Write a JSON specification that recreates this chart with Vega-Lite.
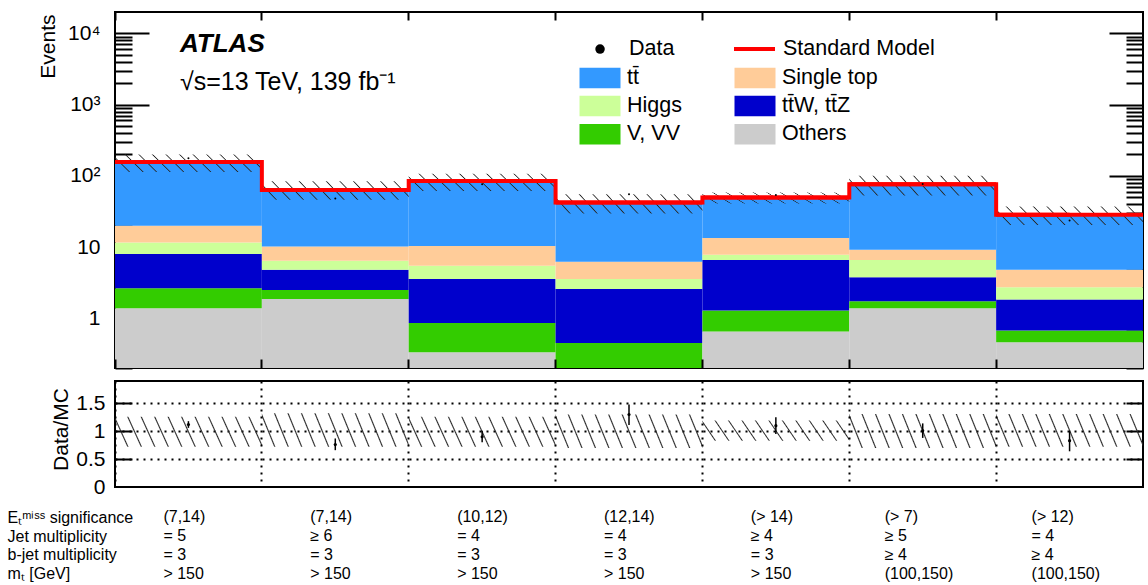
{
  "$schema": "https://vega.github.io/schema/vega-lite/v6.json",
  "padding": {"left": 7, "top": 10, "right": 0, "bottom": 0},
  "spacing": 10,
  "datasets": {
    "stack": [
      {"bin": 1, "comp": "Others", "val": 1.38}, {"bin": 1, "comp": "V, VV", "val": 1.25}, {"bin": 1, "comp": "tt̄W, tt̄Z", "val": 5.35}, {"bin": 1, "comp": "Higgs", "val": 3.62}, {"bin": 1, "comp": "Single top", "val": 8.3}, {"bin": 1, "comp": "tt̄", "val": 137},
      {"bin": 2, "comp": "Others", "val": 1.87}, {"bin": 2, "comp": "V, VV", "val": 0.63}, {"bin": 2, "comp": "tt̄W, tt̄Z", "val": 2.31}, {"bin": 2, "comp": "Higgs", "val": 1.62}, {"bin": 2, "comp": "Single top", "val": 3.77}, {"bin": 2, "comp": "tt̄", "val": 53.3},
      {"bin": 3, "comp": "Others", "val": 0.334}, {"bin": 3, "comp": "V, VV", "val": 0.52}, {"bin": 3, "comp": "tt̄W, tt̄Z", "val": 2.71}, {"bin": 3, "comp": "Higgs", "val": 1.91}, {"bin": 3, "comp": "Single top", "val": 4.9}, {"bin": 3, "comp": "tt̄", "val": 74.4},
      {"bin": 4, "comp": "Others", "val": 0.18}, {"bin": 4, "comp": "V, VV", "val": 0.27}, {"bin": 4, "comp": "tt̄W, tt̄Z", "val": 2.13}, {"bin": 4, "comp": "Higgs", "val": 0.98}, {"bin": 4, "comp": "Single top", "val": 2.66}, {"bin": 4, "comp": "tt̄", "val": 36.0},
      {"bin": 5, "comp": "Others", "val": 0.651}, {"bin": 5, "comp": "V, VV", "val": 0.63}, {"bin": 5, "comp": "tt̄W, tt̄Z", "val": 5.3}, {"bin": 5, "comp": "Higgs", "val": 1.22}, {"bin": 5, "comp": "Single top", "val": 5.6}, {"bin": 5, "comp": "tt̄", "val": 36.1},
      {"bin": 6, "comp": "Others", "val": 1.38}, {"bin": 6, "comp": "V, VV", "val": 0.35}, {"bin": 6, "comp": "tt̄W, tt̄Z", "val": 2.02}, {"bin": 6, "comp": "Higgs", "val": 2.83}, {"bin": 6, "comp": "Single top", "val": 2.59}, {"bin": 6, "comp": "tt̄", "val": 67.1},
      {"bin": 7, "comp": "Others", "val": 0.461}, {"bin": 7, "comp": "V, VV", "val": 0.21}, {"bin": 7, "comp": "tt̄W, tt̄Z", "val": 1.16}, {"bin": 7, "comp": "Higgs", "val": 0.89}, {"bin": 7, "comp": "Single top", "val": 2.07}, {"bin": 7, "comp": "tt̄", "val": 23.3}
    ],
    "sm": [
      {"bin": 1, "sm": 156.9, "mup": 200, "mdn": 113, "d": 176, "rup": 1.26, "rdn": 0.72, "r": 1.12, "rlo": 1.06, "rhi": 1.18},
      {"bin": 2, "sm": 63.5, "mup": 84, "mdn": 46, "d": 48, "rup": 1.32, "rdn": 0.72, "r": 0.76, "rlo": 0.66, "rhi": 0.87},
      {"bin": 3, "sm": 84.8, "mup": 107, "mdn": 61, "d": 76, "rup": 1.26, "rdn": 0.72, "r": 0.9, "rlo": 0.8, "rhi": 1.01},
      {"bin": 4, "sm": 42.2, "mup": 55, "mdn": 29.5, "d": 55, "rup": 1.3, "rdn": 0.7, "r": 1.3, "rlo": 1.11, "rhi": 1.48},
      {"bin": 5, "sm": 49.5, "mup": 58.5, "mdn": 41, "d": 54, "rup": 1.19, "rdn": 0.83, "r": 1.1, "rlo": 0.95, "rhi": 1.25},
      {"bin": 6, "sm": 76.3, "mup": 100, "mdn": 53, "d": 77, "rup": 1.31, "rdn": 0.7, "r": 1.01, "rlo": 0.88, "rhi": 1.14},
      {"bin": 7, "sm": 28.3, "mup": 37, "mdn": 20.4, "d": 23.5, "rup": 1.31, "rdn": 0.72, "r": 0.83, "rlo": 0.64, "rhi": 1.01}
    ],
    "cuts": [
      {"bin": 1, "row": "Eₜᵐⁱˢˢ significance", "txt": "(7,14)"}, {"bin": 1, "row": "Jet multiplicity", "txt": "= 5"}, {"bin": 1, "row": "b-jet multiplicity", "txt": "= 3"}, {"bin": 1, "row": "mₜ [GeV]", "txt": "> 150"},
      {"bin": 2, "row": "Eₜᵐⁱˢˢ significance", "txt": "(7,14)"}, {"bin": 2, "row": "Jet multiplicity", "txt": "≥ 6"}, {"bin": 2, "row": "b-jet multiplicity", "txt": "= 3"}, {"bin": 2, "row": "mₜ [GeV]", "txt": "> 150"},
      {"bin": 3, "row": "Eₜᵐⁱˢˢ significance", "txt": "(10,12)"}, {"bin": 3, "row": "Jet multiplicity", "txt": "= 4"}, {"bin": 3, "row": "b-jet multiplicity", "txt": "= 3"}, {"bin": 3, "row": "mₜ [GeV]", "txt": "> 150"},
      {"bin": 4, "row": "Eₜᵐⁱˢˢ significance", "txt": "(12,14)"}, {"bin": 4, "row": "Jet multiplicity", "txt": "= 4"}, {"bin": 4, "row": "b-jet multiplicity", "txt": "= 3"}, {"bin": 4, "row": "mₜ [GeV]", "txt": "> 150"},
      {"bin": 5, "row": "Eₜᵐⁱˢˢ significance", "txt": "(> 14)"}, {"bin": 5, "row": "Jet multiplicity", "txt": "≥ 4"}, {"bin": 5, "row": "b-jet multiplicity", "txt": "= 3"}, {"bin": 5, "row": "mₜ [GeV]", "txt": "> 150"},
      {"bin": 6, "row": "Eₜᵐⁱˢˢ significance", "txt": "(> 7)"}, {"bin": 6, "row": "Jet multiplicity", "txt": "≥ 5"}, {"bin": 6, "row": "b-jet multiplicity", "txt": "≥ 4"}, {"bin": 6, "row": "mₜ [GeV]", "txt": "(100,150)"},
      {"bin": 7, "row": "Eₜᵐⁱˢˢ significance", "txt": "(> 12)"}, {"bin": 7, "row": "Jet multiplicity", "txt": "= 4"}, {"bin": 7, "row": "b-jet multiplicity", "txt": "≥ 4"}, {"bin": 7, "row": "mₜ [GeV]", "txt": "(100,150)"}
    ]
  },
  "vconcat": [
    {
      "width": 1028,
      "height": 356,
      "title": {"text": "ATLAS", "subtitle": "√s=13 TeV, 139 fb⁻¹", "orient": "top", "anchor": "start", "frame": "group", "offset": -84, "dx": 65, "font": "Liberation Sans", "fontSize": 26, "fontStyle": "italic", "fontWeight": "bold", "color": "#000000", "subtitleFont": "Liberation Sans", "subtitleFontSize": 25, "subtitleColor": "#000000", "subtitlePadding": 13},
      "layer": [
        {
          "data": {"name": "stack"},
          "transform": [{"stack": "val", "groupby": ["bin"], "as": ["y0", "y1"]}],
          "mark": {"type": "rect"},
          "encoding": {
            "x": {"field": "bin", "type": "ordinal", "scale": {"paddingInner": 0, "paddingOuter": 0}, "axis": {"orient": "top", "labels": false, "bandPosition": 0, "tickSize": -8, "title": null}},
            "y": {"field": "y1", "type": "quantitative", "scale": {"type": "log", "domain": [0.2, 20000], "nice": false, "clamp": true},
              "axis": {"orient": "left", "values": [1, 10, 100, 1000, 10000], "ticks": false, "labelExpr": "datum.value == 1 ? '1' : datum.value == 10 ? '10' : datum.value == 100 ? '10²' : datum.value == 1000 ? '10³' : '10⁴'", "labelFontSize": 21, "labelPadding": 15, "title": "Events", "titleFontSize": 21, "titleAngle": -90, "titleAlign": "right", "titleBaseline": "alphabetic", "titleX": -61, "titleY": 2}},
            "y2": {"field": "y0"},
            "color": {"field": "comp", "type": "nominal",
              "scale": {"domain": ["tt̄", "Higgs", "V, VV", "Single top", "tt̄W, tt̄Z", "Others"], "range": ["#3399ff", "#ccff99", "#33cc00", "#ffcc99", "#0000cc", "#cccccc"]},
              "legend": {"orient": "none", "legendX": 474.25, "legendY": 54.75, "columns": 2, "columnPadding": 52, "rowPadding": 5.4, "title": null, "padding": 0,
                "labelFont": "Liberation Sans", "labelFontSize": 21.5, "labelColor": "#000000", "labelOffset": 16.25, "labelLimit": 400,
                "symbolType": "M-2,-1H2V1H-2Z", "symbolSize": 420.25, "symbolStrokeWidth": 0, "symbolOpacity": 1}}
          }
        },
        {
          "data": {"name": "sm"},
          "mark": {"type": "rect", "fill": {"gradient": "linear", "x1": 0, "y1": 0.561, "x2": 1, "y2": 0.439, "stops": [
            {"offset": 0, "color": "rgba(40,40,40,0)"},
            {"offset": 0.0375, "color": "rgba(40,40,40,0)"}, {"offset": 0.0455, "color": "rgba(40,40,40,1)"}, {"offset": 0.0535, "color": "rgba(40,40,40,0)"},
            {"offset": 0.1284, "color": "rgba(40,40,40,0)"}, {"offset": 0.1364, "color": "rgba(40,40,40,1)"}, {"offset": 0.1444, "color": "rgba(40,40,40,0)"},
            {"offset": 0.2193, "color": "rgba(40,40,40,0)"}, {"offset": 0.2273, "color": "rgba(40,40,40,1)"}, {"offset": 0.2353, "color": "rgba(40,40,40,0)"},
            {"offset": 0.3102, "color": "rgba(40,40,40,0)"}, {"offset": 0.3182, "color": "rgba(40,40,40,1)"}, {"offset": 0.3262, "color": "rgba(40,40,40,0)"},
            {"offset": 0.4011, "color": "rgba(40,40,40,0)"}, {"offset": 0.4091, "color": "rgba(40,40,40,1)"}, {"offset": 0.4171, "color": "rgba(40,40,40,0)"},
            {"offset": 0.492, "color": "rgba(40,40,40,0)"}, {"offset": 0.5, "color": "rgba(40,40,40,1)"}, {"offset": 0.508, "color": "rgba(40,40,40,0)"},
            {"offset": 0.5829, "color": "rgba(40,40,40,0)"}, {"offset": 0.5909, "color": "rgba(40,40,40,1)"}, {"offset": 0.5989, "color": "rgba(40,40,40,0)"},
            {"offset": 0.6738, "color": "rgba(40,40,40,0)"}, {"offset": 0.6818, "color": "rgba(40,40,40,1)"}, {"offset": 0.6898, "color": "rgba(40,40,40,0)"},
            {"offset": 0.7647, "color": "rgba(40,40,40,0)"}, {"offset": 0.7727, "color": "rgba(40,40,40,1)"}, {"offset": 0.7807, "color": "rgba(40,40,40,0)"},
            {"offset": 0.8556, "color": "rgba(40,40,40,0)"}, {"offset": 0.8636, "color": "rgba(40,40,40,1)"}, {"offset": 0.8716, "color": "rgba(40,40,40,0)"},
            {"offset": 0.9465, "color": "rgba(40,40,40,0)"}, {"offset": 0.9545, "color": "rgba(40,40,40,1)"}, {"offset": 0.9625, "color": "rgba(40,40,40,0)"},
            {"offset": 1, "color": "rgba(40,40,40,0)"}
          ]}},
          "encoding": {
            "x": {"field": "bin", "type": "ordinal", "axis": {"orient": "bottom", "labels": false, "bandPosition": 0, "tickSize": -9, "title": null}},
            "y": {"field": "mup", "type": "quantitative", "axis": {"orient": "left", "labels": false, "title": null,
              "values": [0.2, 0.3, 0.4, 0.5, 0.6, 0.7, 0.8, 0.9, 1, 2, 3, 4, 5, 6, 7, 8, 9, 10, 20, 30, 40, 50, 60, 70, 80, 90, 100, 200, 300, 400, 500, 600, 700, 800, 900, 1000, 2000, 3000, 4000, 5000, 6000, 7000, 8000, 9000, 10000],
              "tickSize": {"condition": {"test": "datum.value === 1 || datum.value === 10 || datum.value === 100 || datum.value === 1000 || datum.value === 10000", "value": -34}, "value": -17}}},
            "y2": {"field": "mdn"}
          }
        },
        {
          "data": {"name": "sm"},
          "mark": {"type": "rect", "fillOpacity": 0, "stroke": "#ff0000", "strokeWidth": 4},
          "encoding": {
            "x": {"field": "bin", "type": "ordinal", "axis": null},
            "y": {"field": "sm", "type": "quantitative", "axis": {"orient": "right", "labels": false, "title": null,
              "values": [0.2, 0.3, 0.4, 0.5, 0.6, 0.7, 0.8, 0.9, 1, 2, 3, 4, 5, 6, 7, 8, 9, 10, 20, 30, 40, 50, 60, 70, 80, 90, 100, 200, 300, 400, 500, 600, 700, 800, 900, 1000, 2000, 3000, 4000, 5000, 6000, 7000, 8000, 9000, 10000],
              "tickSize": {"condition": {"test": "datum.value === 1 || datum.value === 10 || datum.value === 100 || datum.value === 1000 || datum.value === 10000", "value": -34}, "value": -17}}},
            "y2": {"field": "sm"}
          }
        },
        {
          "data": {"name": "sm"},
          "mark": {"type": "line", "interpolate": "step", "strokeWidth": 4},
          "encoding": {
            "x": {"field": "bin", "type": "ordinal", "axis": null},
            "y": {"field": "sm", "type": "quantitative", "axis": null},
            "stroke": {"datum": "Standard Model", "scale": {"range": ["#ff0000"]},
              "legend": {"orient": "none", "legendX": 617, "legendY": 14.5, "title": null, "padding": 0,
                "labelFont": "Liberation Sans", "labelFontSize": 21.5, "labelColor": "#000000", "labelOffset": 6, "labelLimit": 400,
                "symbolType": "M-1,0H1", "symbolSize": 1681, "symbolStrokeWidth": 4, "symbolOpacity": 1}}
          }
        },
        {
          "data": {"name": "sm"},
          "mark": {"type": "point", "filled": true, "size": 4, "opacity": 1, "color": "#000000"},
          "encoding": {
            "x": {"field": "bin", "type": "ordinal", "axis": null},
            "y": {"field": "d", "type": "quantitative", "axis": null},
            "shape": {"datum": "Data", "scale": {"range": ["circle"]},
              "legend": {"orient": "none", "legendX": 474.3, "legendY": 26.3, "title": null, "padding": 0,
                "labelFont": "Liberation Sans", "labelFontSize": 21.5, "labelColor": "#000000", "labelOffset": 18.2, "labelLimit": 400,
                "symbolSize": 90, "symbolFillColor": "#000000", "symbolStrokeWidth": 0, "symbolOpacity": 1}}
          }
        }
      ],
      "resolve": {"axis": {"x": "independent", "y": "independent"}}
    },
    {
      "width": 1028,
      "height": 106,
      "layer": [
        {
          "data": {"name": "sm"},
          "mark": {"type": "rect", "fill": {"gradient": "linear", "x1": 0, "y1": 0.5465, "x2": 1, "y2": 0.4535, "stops": [
            {"offset": 0, "color": "rgba(40,40,40,0)"},
            {"offset": 0.0375, "color": "rgba(40,40,40,0)"}, {"offset": 0.0455, "color": "rgba(40,40,40,1)"}, {"offset": 0.0535, "color": "rgba(40,40,40,0)"},
            {"offset": 0.1284, "color": "rgba(40,40,40,0)"}, {"offset": 0.1364, "color": "rgba(40,40,40,1)"}, {"offset": 0.1444, "color": "rgba(40,40,40,0)"},
            {"offset": 0.2193, "color": "rgba(40,40,40,0)"}, {"offset": 0.2273, "color": "rgba(40,40,40,1)"}, {"offset": 0.2353, "color": "rgba(40,40,40,0)"},
            {"offset": 0.3102, "color": "rgba(40,40,40,0)"}, {"offset": 0.3182, "color": "rgba(40,40,40,1)"}, {"offset": 0.3262, "color": "rgba(40,40,40,0)"},
            {"offset": 0.4011, "color": "rgba(40,40,40,0)"}, {"offset": 0.4091, "color": "rgba(40,40,40,1)"}, {"offset": 0.4171, "color": "rgba(40,40,40,0)"},
            {"offset": 0.492, "color": "rgba(40,40,40,0)"}, {"offset": 0.5, "color": "rgba(40,40,40,1)"}, {"offset": 0.508, "color": "rgba(40,40,40,0)"},
            {"offset": 0.5829, "color": "rgba(40,40,40,0)"}, {"offset": 0.5909, "color": "rgba(40,40,40,1)"}, {"offset": 0.5989, "color": "rgba(40,40,40,0)"},
            {"offset": 0.6738, "color": "rgba(40,40,40,0)"}, {"offset": 0.6818, "color": "rgba(40,40,40,1)"}, {"offset": 0.6898, "color": "rgba(40,40,40,0)"},
            {"offset": 0.7647, "color": "rgba(40,40,40,0)"}, {"offset": 0.7727, "color": "rgba(40,40,40,1)"}, {"offset": 0.7807, "color": "rgba(40,40,40,0)"},
            {"offset": 0.8556, "color": "rgba(40,40,40,0)"}, {"offset": 0.8636, "color": "rgba(40,40,40,1)"}, {"offset": 0.8716, "color": "rgba(40,40,40,0)"},
            {"offset": 0.9465, "color": "rgba(40,40,40,0)"}, {"offset": 0.9545, "color": "rgba(40,40,40,1)"}, {"offset": 0.9625, "color": "rgba(40,40,40,0)"},
            {"offset": 1, "color": "rgba(40,40,40,0)"}
          ]}},
          "encoding": {
            "x": {"field": "bin", "type": "ordinal", "scale": {"paddingInner": 0, "paddingOuter": 0}, "axis": {"orient": "bottom", "labels": false, "ticks": false, "grid": true, "bandPosition": 0, "gridDash": [2, 5], "gridWidth": 2, "gridColor": "#000000", "title": null}},
            "y": {"field": "rup", "type": "quantitative", "scale": {"domain": [0, 1.9], "nice": false, "zero": false},
              "axis": {"orient": "left", "values": [0, 0.5, 1, 1.5], "ticks": false, "labelExpr": "'' + datum.value", "labelFontSize": 21, "labelPadding": 10, "title": "Data/MC", "titleFontSize": 21, "titleAngle": -90, "titleAlign": "center", "titleBaseline": "alphabetic", "titleX": -48, "titleY": 48}},
            "y2": {"field": "rdn"}
          }
        },
        {
          "data": {"name": "sm"},
          "mark": {"type": "rule", "color": "#000000", "strokeWidth": 1.5},
          "encoding": {
            "x": {"field": "bin", "type": "ordinal", "axis": null},
            "y": {"field": "rlo", "type": "quantitative", "axis": {"orient": "left", "labels": false, "title": null, "values": [0.5, 1, 1.5], "tickSize": -17, "grid": true, "gridDash": [2, 5], "gridWidth": 2, "gridColor": "#000000"}},
            "y2": {"field": "rhi"}
          }
        },
        {
          "data": {"name": "sm"},
          "mark": {"type": "point", "filled": true, "color": "#000000", "size": 10, "opacity": 1},
          "encoding": {
            "x": {"field": "bin", "type": "ordinal", "axis": null},
            "y": {"field": "r", "type": "quantitative", "axis": {"orient": "right", "labels": false, "title": null, "values": [0.5, 1, 1.5], "tickSize": -17}}
          }
        }
      ],
      "resolve": {"axis": {"x": "independent", "y": "independent"}}
    },
    {
      "width": 1028,
      "height": 75,
      "view": {"stroke": null},
      "data": {"name": "cuts"},
      "encoding": {
        "x": {"field": "bin", "type": "ordinal", "scale": {"domain": [1, 2, 3, 4, 5, 6, 7], "paddingInner": 0, "paddingOuter": 0}, "axis": null},
        "y": {"field": "row", "type": "nominal", "scale": {"type": "point", "padding": 0.474, "domain": ["Eₜᵐⁱˢˢ significance", "Jet multiplicity", "b-jet multiplicity", "mₜ [GeV]"]},
          "axis": {"orient": "left", "ticks": false, "domain": false, "labelAlign": "left", "labelPadding": 108, "labelFontSize": 16, "labelLimit": 300, "title": null}},
        "text": {"field": "txt"}
      },
      "layer": [
        {"transform": [{"filter": "datum.bin <= 5"}], "mark": {"type": "text", "align": "left", "dx": -25, "fontSize": 16, "font": "Liberation Sans", "color": "#000000"}},
        {"transform": [{"filter": "datum.bin > 5"}], "mark": {"type": "text", "align": "left", "dx": -38, "fontSize": 16, "font": "Liberation Sans", "color": "#000000"}}
      ]
    }
  ],
  "resolve": {"scale": {"x": "independent", "y": "independent", "color": "independent", "stroke": "independent", "shape": "independent"}},
  "config": {
    "font": "Liberation Sans",
    "view": {"stroke": "#000000", "strokeWidth": 2},
    "axis": {"domain": false, "grid": false, "labelFont": "Liberation Sans", "titleFont": "Liberation Sans", "labelColor": "#000000", "titleColor": "#000000", "tickColor": "#000000", "tickWidth": 2, "titleFontWeight": "normal"}
  }
}
